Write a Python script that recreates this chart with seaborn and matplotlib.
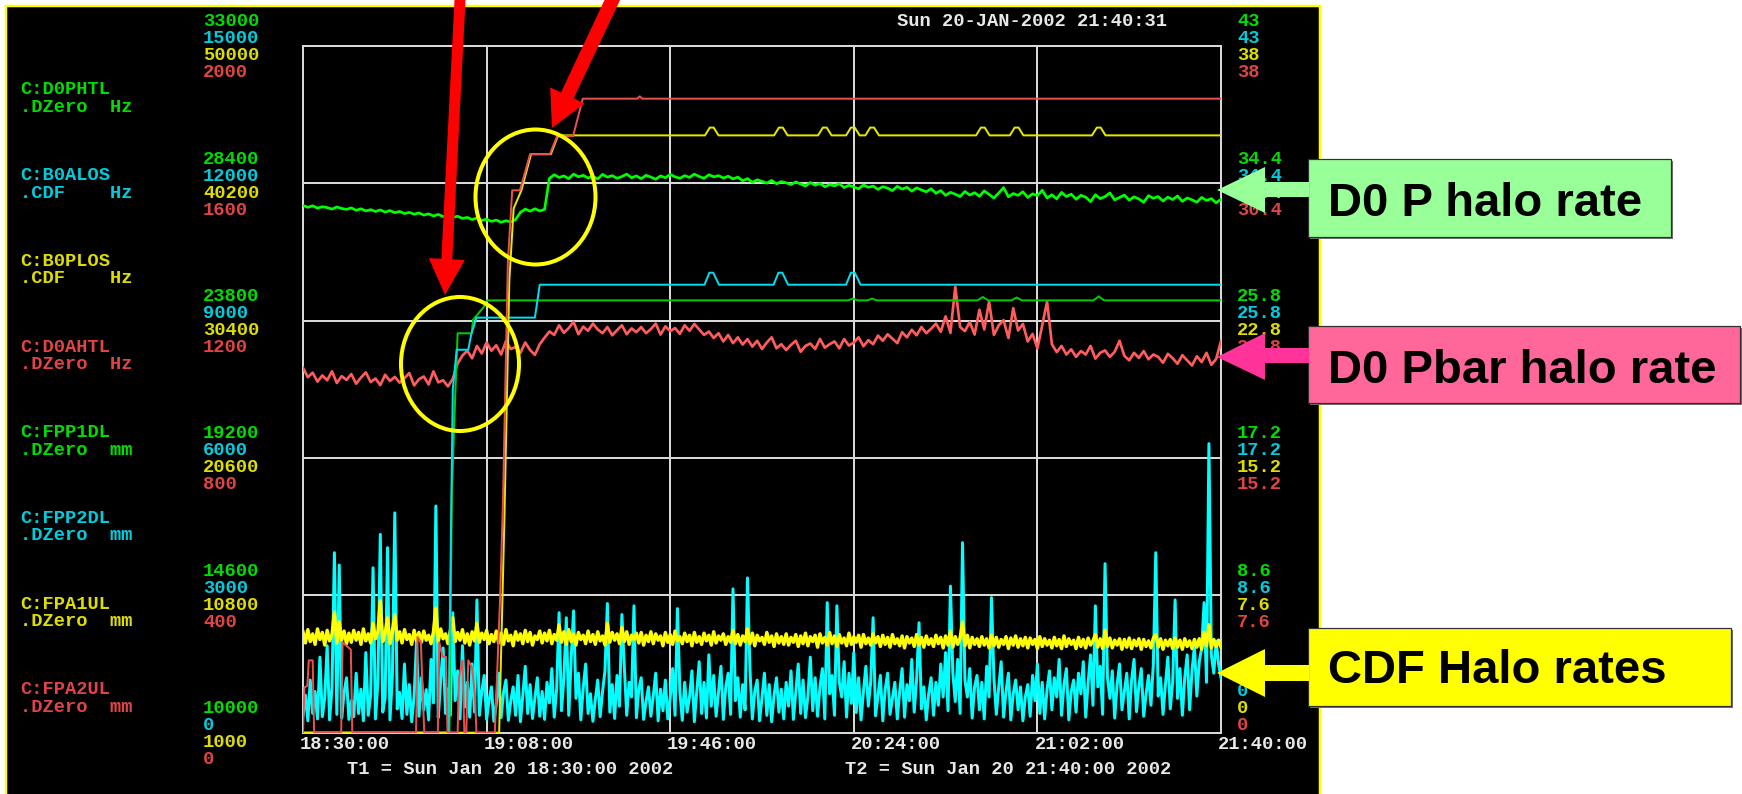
import numpy as np
import matplotlib
matplotlib.use("Agg")
import matplotlib.pyplot as plt
import seaborn as sns
from matplotlib.patches import Rectangle, Ellipse, Polygon
from matplotlib.transforms import ScaledTranslation

W, H, DPI = 1742, 794, 100
PT = 72.0 / DPI

# ------------------------------------------------------------------ data
header_text = "Sun 20-JAN-2002 21:40:31"
t1_text = "T1 = Sun Jan 20 18:30:00 2002"
t2_text = "T2 = Sun Jan 20 21:40:00 2002"

time_ticks = [0, 38, 76, 114, 152, 190]          # minutes after 18:30:00
time_labels = ["18:30:00", "19:08:00", "19:46:00", "20:24:00", "21:02:00", "21:40:00"]

channel_names = ["C:D0PHTL", "C:B0ALOS", "C:B0PLOS", "C:D0AHTL",
                 "C:FPP1DL", "C:FPP2DL", "C:FPA1UL", "C:FPA2UL"]
channel_units = [".DZero  Hz", ".CDF    Hz", ".CDF    Hz", ".DZero  Hz",
                 ".DZero  mm", ".DZero  mm", ".DZero  mm", ".DZero  mm"]

d0phtl_ticks = ["10000", "14600", "19200", "23800", "28400", "33000"]
b0alos_ticks = ["0", "3000", "6000", "9000", "12000", "15000"]
b0plos_ticks = ["1000", "10800", "20600", "30400", "40200", "50000"]
d0ahtl_ticks = ["0", "400", "800", "1200", "1600", "2000"]
fpp1dl_ticks = ["0", "8.6", "17.2", "25.8", "34.4", "43"]
fpp2dl_ticks = ["0", "8.6", "17.2", "25.8", "34.4", "43"]
fpa1ul_ticks = ["0", "7.6", "15.2", "22.8", "30.4", "38"]
fpa2ul_ticks = ["0", "7.6", "15.2", "22.8", "30.4", "38"]

callout_texts = ["D0 P halo rate", "D0 Pbar halo rate", "CDF Halo rates"]

# D0 proton halo rate, Hz, one sample per minute
d0phtl_hz = [
    27650, 27590, 27640, 27560, 27610, 27580, 27530, 27600, 27550, 27520,
    27570, 27490, 27540, 27470, 27510, 27450, 27500, 27430, 27480, 27410,
    27450, 27380, 27420, 27360, 27400, 27330, 27370, 27300, 27350, 27280,
    27310, 27250, 27290, 27220, 27250, 27180, 27230, 27150, 27190, 27120,
    27160, 27090, 27140, 27100, 27180, 27420, 27530, 27460, 27540, 27470,
    27520, 28560, 28680, 28590, 28640, 28550, 28700, 28610, 28660, 28570,
    28630, 28540, 28690, 28600, 28650, 28560, 28620, 28700, 28580, 28640,
    28550, 28660, 28600, 28530, 28640, 28580, 28690, 28610, 28560, 28650,
    28590, 28700, 28620, 28560, 28680, 28610, 28650, 28570, 28630, 28540,
    28600, 28480, 28550, 28430, 28510, 28460, 28400, 28490, 28380, 28450,
    28410, 28350, 28440, 28370, 28300, 28420, 28330, 28390, 28280, 28350,
    28310, 28380, 28250, 28330, 28270, 28210, 28340, 28260, 28300, 28190,
    28280, 28230, 28150, 28290, 28200, 28260, 28130, 28240, 28170, 28110,
    28210, 28060, 28150, 27990, 28090, 28030, 27950, 28120, 28000, 28080,
    27960, 28140, 28020, 27900, 28070, 28250, 27940, 28050, 27990, 28110,
    27920, 28040, 27980, 28160, 27900, 28010, 27870, 28090, 27950, 28030,
    27860, 27990, 27930, 27780, 28010, 27880, 27950, 28070, 27840, 27920,
    28000, 27830, 27940, 27870, 27760, 27980, 27890, 27950, 27800, 27930,
    27850, 27970, 27790, 27900, 27840, 27760, 27920, 27820, 27880, 27740,
    27860]

# D0 antiproton halo rate, Hz, one sample per minute
d0ahtl_hz = [
    1062, 1035, 1048, 1022, 1040, 1026, 1052, 1018, 1038, 1027,
    1044, 1016, 1034, 1049, 1021, 1031, 1012, 1042, 1024, 1036,
    1019, 1032, 1047, 1011, 1029, 1037, 1014, 1052, 1020, 1026,
    1008, 1030, 1075, 1098, 1112, 1090, 1126, 1104, 1136, 1112,
    1128, 1101, 1140, 1117, 1123, 1106, 1136, 1114, 1100, 1131,
    1150, 1168, 1158, 1186, 1164, 1178, 1196, 1160, 1182, 1170,
    1191, 1174, 1163, 1181, 1157, 1172, 1186, 1160, 1177, 1166,
    1181, 1163, 1175, 1191, 1159, 1183, 1169, 1178, 1161, 1186,
    1170, 1190, 1174, 1158, 1168, 1149, 1163, 1139, 1158, 1134,
    1151, 1130, 1146, 1124, 1141, 1117, 1136, 1151, 1119, 1131,
    1114, 1129, 1141, 1109, 1126, 1133, 1117, 1146, 1121, 1131,
    1139, 1119, 1146, 1127, 1136, 1151, 1125, 1143, 1131, 1156,
    1141, 1160, 1147, 1134, 1166, 1151, 1173, 1157, 1181, 1163,
    1176, 1191, 1167, 1212, 1164, 1298, 1181, 1169, 1196, 1159,
    1231, 1174, 1255, 1158, 1186, 1201, 1149, 1236, 1171, 1190,
    1139, 1161, 1119, 1186, 1255, 1131, 1108, 1126, 1101, 1116,
    1094, 1111, 1101, 1126, 1089, 1106, 1113, 1094, 1109, 1141,
    1097, 1084, 1106, 1091, 1111, 1087, 1101, 1094, 1077, 1103,
    1090, 1074, 1099, 1084, 1069, 1096, 1079, 1106, 1071, 1088,
    1140]

# CDF proton-side losses, Hz, one sample per 30 s
b0plos_hz = [
    8200, 7400, 8350, 7500, 8050, 7300, 8400, 7650, 8150, 7250, 8300, 7550, 8000, 9600, 7400, 8900, 7600, 8250, 7350, 8100,
    7450, 8300, 7600, 8150, 7300, 8400, 7550, 8050, 7400, 8800, 7700, 8200, 10400, 7500, 8100, 9200, 7350, 8250, 9400, 7600,
    8200, 7400, 8350, 7650, 8000, 7300, 8300, 7550, 8150, 7450, 8250, 7600, 7950, 7350, 8200, 9900, 7500, 8400, 7700, 8050,
    7350, 8300, 9200, 7500, 8150, 7600, 8350, 7400, 8050, 7250, 8200, 7550, 8800, 7450, 8100, 7650, 8300, 7350, 8000, 7500,
    8250, 7400, 8100, 7300, 8350, 7550, 7950, 7200, 8200, 7600, 8050, 7350, 8300, 7500, 8150, 7250, 7900, 7650, 8250, 7400,
    8100, 7550, 8300, 7350, 8000, 7600, 8700, 7450, 8200, 7300, 8350, 7500, 8050, 7250, 8150, 7650, 7950, 7350, 8250, 7500,
    8000, 7300, 8200, 7550, 7900, 7250, 8800, 7450, 8150, 7600, 8050, 7350, 8500, 7500, 8200, 7300, 7950, 7650, 8100, 7400,
    8150, 7250, 7950, 7500, 8200, 7350, 8050, 7600, 7900, 7200, 8150, 7450, 8000, 7300, 8250, 7550, 7850, 7350, 8100, 7500,
    7950, 7200, 8150, 7450, 7850, 7300, 8100, 7550, 7950, 7250, 8200, 7400, 7900, 7600, 8050, 7300, 7850, 7450, 8300, 7350,
    8000, 7250, 7900, 7500, 8400, 7350, 8100, 7200, 7950, 7550, 7800, 7300, 8150, 7450, 7900, 7150, 8050, 7400, 7850, 7300,
    8050, 7250, 7800, 7450, 8000, 7150, 7900, 7350, 8100, 7200, 7850, 7500, 7950, 7100, 8050, 7400, 7800, 7250, 8150, 7350,
    7900, 7150, 8000, 7400, 7750, 7200, 8100, 7300, 7850, 7450, 7950, 7100, 8000, 7350, 7750, 7250, 8050, 7400, 7850, 7150,
    7950, 7300, 7800, 7100, 8000, 7350, 7700, 7200, 7900, 7050, 7850, 7400, 7750, 7150, 8000, 7250, 7800, 7100, 7900, 7300,
    7700, 7150, 7950, 7350, 7800, 7050, 7900, 7250, 8250, 7100, 7850, 7300, 7750, 8900, 7200, 7950, 7050, 7800, 7300, 7700,
    7150, 7850, 7250, 7700, 7050, 7950, 7200, 7800, 7100, 7650, 7300, 7850, 7000, 7750, 7250, 7900, 7100, 7700, 7200, 7800,
    7050, 7750, 7300, 7650, 7000, 7850, 7150, 7700, 7250, 7600, 7050, 7800, 7200, 7650, 7000, 7900, 7150, 7700, 7300, 7600,
    7000, 7800, 7150, 7650, 7050, 7750, 7250, 7550, 8000, 7100, 7700, 7000, 8300, 7150, 7750, 7050, 7600, 7250, 7700, 6950,
    7650, 7100, 7750, 7000, 7600, 7200, 7700, 6950, 7650, 7150, 7550, 7050, 7750, 8000, 7100, 7700, 6950, 7600, 7200, 7650,
    7000, 7750, 7100, 7600, 6950, 7700, 7150, 7550, 7000, 7650, 7100, 7700, 6950, 8150, 7200, 8700, 7050, 7650, 7150, 7600,
    7100]

# CDF antiproton-side losses, Hz, one sample per 30 s
b0alos_hz = [
    380, 820, 260, 1150, 420, 900, 300, 1650, 350, 760, 1900, 280, 980, 3930, 400, 3660, 320, 870, 1200, 290,
    700, 350, 1300, 420, 950, 260, 1750, 380, 820, 3600, 300, 1100, 4330, 450, 760, 4040, 280, 1250, 4800, 520,
    880, 310, 1500, 400, 1050, 240, 800, 2000, 360, 1200, 500, 940, 280, 1600, 650, 4950, 330, 1150, 1850, 420,
    960, 380, 2620, 700, 1350, 300, 1900, 560, 1100, 340, 1500, 450, 2900, 380, 900, 1250, 290, 700, 1000, 250,
    620, 1300, 330, 880, 1150, 270, 690, 1000, 380, 1250, 240, 820, 1450, 420, 1050, 310, 760, 1200, 360, 900,
    290, 1100, 650, 1400, 340, 950, 2620, 480, 1200, 2510, 380, 1600, 2660, 750, 1300, 280, 980, 1500, 420, 850,
    250, 720, 1150, 350, 900, 1350, 2820, 450, 1050, 310, 1250, 580, 2580, 1450, 380, 1100, 780, 2770, 330, 950,
    1200, 290, 680, 1000, 360, 800, 1300, 260, 950, 480, 1150, 300, 760, 1400, 380, 2710, 900, 270, 1100, 450,
    780, 1350, 240, 900, 1550, 420, 1100, 320, 1700, 580, 1250, 360, 880, 1450, 290, 1000, 1300, 400, 3140, 700,
    1200, 340, 1050, 500, 3380, 1400, 300, 900, 1150, 260, 760, 1300, 380, 1050, 240, 820, 1200, 450, 950, 300,
    1100, 580, 1350, 290, 900, 1500, 420, 1150, 330, 800, 1650, 480, 1200, 360, 1000, 1400, 300, 2840, 850, 1250,
    380, 2770, 1100, 780, 1550, 340, 1300, 640, 1750, 440, 1200, 280, 900, 1450, 580, 1100, 2510, 370, 800, 1250,
    260, 950, 1300, 400, 760, 1100, 300, 900, 1400, 340, 1050, 700, 1600, 450, 1150, 2400, 520, 1000, 280, 850,
    1200, 380, 1100, 600, 1500, 780, 1750, 480, 3200, 1300, 680, 1600, 420, 4150, 1150, 780, 1400, 320, 1000, 1250,
    500, 1100, 300, 1450, 780, 2950, 1200, 400, 1000, 1550, 340, 900, 1300, 280, 850, 1150, 500, 1000, 260, 780,
    1050, 360, 1250, 700, 1500, 420, 1100, 300, 950, 1350, 500, 1200, 780, 1600, 380, 1050, 1400, 280, 900, 1150,
    450, 1300, 850, 1550, 340, 1100, 1700, 600, 2770, 1000, 1450, 400, 3690, 1200, 750, 1350, 320, 1050, 1500, 500,
    900, 1300, 300, 1150, 1600, 460, 1000, 1400, 360, 850, 1250, 600, 1500, 3930, 800, 1200, 400, 1050, 1650, 520,
    1100, 2900, 750, 1400, 380, 1200, 1700, 500, 1350, 1900, 800, 1550, 1850, 2840, 1100, 6310, 1700, 1300, 2000, 1500,
    1200]

# Roman-pot positions (mm) as recorded breakpoints (minutes after 18:30)
fpp1dl_t = [0, 30.3, 30.8, 31.7, 32.0, 34.9, 35.2, 37.3, 38.1, 112.8, 113.8, 114.8,
            116.8, 117.8, 118.8, 139.6, 140.7, 141.8, 146.6, 147.7, 148.8, 163.6, 164.7, 165.8, 190]
fpp1dl_mm = [0, 0, 15.0, 22.7, 25.0, 25.0, 25.85, 26.6, 27.06, 27.06, 27.17, 27.06,
             27.06, 27.17, 27.06, 27.06, 27.27, 27.06, 27.06, 27.24, 27.06, 27.06, 27.31, 27.06, 27.06]

fpp2dl_t = [0, 30.1, 30.6, 31.0, 31.8, 34.2, 34.8, 35.9, 48.0, 49.0,
            83.1, 84.1, 84.9, 86.1, 97.4, 98.4, 99.2, 100.4, 112.4, 113.4, 114.2, 115.4, 190]
fpp2dl_mm = [0, 0, 12.0, 21.47, 23.97, 23.97, 24.9, 25.98, 25.98, 28.04,
             28.04, 28.79, 28.79, 28.04, 28.04, 28.79, 28.79, 28.04, 28.04, 28.79, 28.79, 28.04, 28.04]

fpa1ul_t = [0, 40.6, 41.7, 42.7, 43.6, 45.2, 47.2, 51.3, 52.8,
            83.2, 84.2, 85.0, 86.0, 97.5, 98.5, 99.3, 100.3, 106.6, 107.6, 108.4, 109.4,
            112.4, 113.4, 114.2, 115.2, 116.4, 117.4, 118.2, 119.2, 139.3, 140.3, 141.1, 142.1,
            146.3, 147.3, 148.1, 149.1, 163.3, 164.3, 165.1, 166.1, 190]
fpa1ul_mm = [0, 0, 12.0, 25.0, 29.0, 30.0, 32.0, 32.0, 33.04,
             33.04, 33.47, 33.47, 33.04, 33.04, 33.47, 33.47, 33.04, 33.04, 33.47, 33.47, 33.04,
             33.04, 33.47, 33.47, 33.04, 33.04, 33.47, 33.47, 33.04, 33.04, 33.47, 33.47, 33.04,
             33.04, 33.47, 33.47, 33.04, 33.04, 33.47, 33.47, 33.04, 33.04]

fpa2ul_t = [0, 0.3, 0.9, 1.2, 2.0, 2.3, 7.9, 8.2, 9.0, 9.9, 10.2, 23.4, 23.7, 24.4, 24.8, 25.1,
            27.9, 28.2, 28.9, 29.6, 29.9, 32.0, 32.3, 33.0, 33.4, 33.8, 34.2, 35.0, 35.6, 35.9,
            39.7, 40.8, 41.4, 42.4, 43.3, 44.9, 47.0, 51.1, 52.6, 55.9, 57.9, 69.2, 69.7, 70.2, 190]
fpa2ul_mm = [0, 2.5, 2.6, 4.0, 4.0, 0, 0, 5.0, 4.8, 4.6, 0, 0, 5.3, 5.0, 2.0, 0,
             0, 5.0, 4.2, 4.2, 0, 0, 3.1, 4.0, 0, 0, 4.0, 3.6, 2.0, 0,
             0, 7.5, 12.9, 26.0, 30.0, 30.0, 32.0, 32.0, 33.0, 33.0, 35.07, 35.07, 35.2, 35.07, 35.07]

minutes = np.arange(len(d0phtl_hz))            # 1-minute samples
half_minutes = np.arange(len(b0alos_hz)) * 0.5  # 30-second samples

# ------------------------------------------------------------------ style
MONO = "Liberation Mono"
FS = 13.5
TG, TC, TY, TR, TW = "#00DD00", "#00CCDD", "#DDDD00", "#E04444", "#E8E8E8"
GRID = "#D8D8D8"
LW = 2 * PT

fig = plt.figure(figsize=(W / DPI, H / DPI), dpi=DPI, facecolor="white")


def fx(x):
    return x / W


def fy(y):
    return 1 - y / H


# black scope panel with yellow frame
fig.add_artist(Rectangle((fx(6), fy(800)), (1320 - 6) / W, (800 - 6) / H,
                         transform=fig.transFigure, facecolor="black",
                         edgecolor="#FFFF00", lw=2.5 * PT, zorder=-10))

ax = fig.add_axes([fx(303), fy(732.7), 918 / W, 687 / H])
ax.set_facecolor("black")

twins = [ax.twinx() for _ in range(8)]
for a in twins:
    for s in a.spines.values():
        s.set_visible(False)
    a.grid(False)

series = [
    (minutes, d0phtl_hz, "#00FF00", 2.7),
    (half_minutes, b0alos_hz, "#00FFFF", 3.0),
    (half_minutes, b0plos_hz, "#FFFF00", 3.4),
    (minutes, d0ahtl_hz, "#FF5C5C", 2.7),
    (fpp1dl_t, fpp1dl_mm, "#00CC00", 2.0),
    (fpp2dl_t, fpp2dl_mm, "#00DDEE", 2.0),
    (fpa1ul_t, fpa1ul_mm, "#E6E600", 2.0),
    (fpa2ul_t, fpa2ul_mm, "#E85050", 2.0),
]
for a, (xs, ys, col, lwpx) in zip(twins, series):
    sns.lineplot(x=list(xs), y=list(ys), ax=a, color=col, lw=lwpx * PT, estimator=None,
                 sort=False, legend=False)
    a.set_xlabel("")
    a.set_ylabel("")

tick_sets = [d0phtl_ticks, b0alos_ticks, b0plos_ticks, d0ahtl_ticks,
             fpp1dl_ticks, fpp2dl_ticks, fpa1ul_ticks, fpa2ul_ticks]
sides = ["left"] * 4 + ["right"] * 4
tcolors = [TG, TC, TY, TR] * 2
dys = [-26, -9, 8, 25] * 2
for a, labels, side, col, dy in zip(twins, tick_sets, sides, tcolors, dys):
    vals = [float(s) for s in labels]
    a.set_ylim(vals[0], vals[-1])
    a.set_yticks(vals, labels)
    if side == "left":
        a.yaxis.tick_left()
        a.tick_params(axis="y", length=0, pad=100 * PT, labelcolor=col, labelsize=FS)
    else:
        a.yaxis.tick_right()
        a.tick_params(axis="y", length=0, pad=16 * PT, labelcolor=col, labelsize=FS)
    for k, lab in enumerate(a.get_yticklabels()):
        lab.set_fontfamily(MONO)
        lab.set_fontweight("bold")
        lab.set_ha("left")
        lab.set_va("center_baseline")
        shift = dy - (34 if (side == "right" and k == 0) else 0)
        lab.set_transform(lab.get_transform() +
                          ScaledTranslation(0, -shift / DPI, fig.dpi_scale_trans))

# main axes: frame, grid, time ticks
ax.set_ylim(0, 5)
ax.set_yticks(range(6))
ax.tick_params(axis="y", left=False, right=False, labelleft=False, labelright=False)
ax.set_xticks(time_ticks, time_labels)
ax.tick_params(axis="x", length=0, pad=10 * PT, labelcolor=TW, labelsize=FS)
for lab in ax.get_xticklabels():
    lab.set_fontfamily(MONO)
    lab.set_fontweight("bold")
    lab.set_ha("center")
    lab.set_va("center_baseline")
    lab.set_transform(lab.get_transform() +
                      ScaledTranslation(42 / DPI, 0, fig.dpi_scale_trans))
ax.grid(True, color=GRID, lw=LW)
ax.set_axisbelow(True)
for s in ax.spines.values():
    s.set_color(GRID)
    s.set_linewidth(LW)
ax.set_xlim(time_ticks[0], time_ticks[-1])

# channel names on the left
name_colors = [TG, TC, TY, TR] * 2
for i, (nm, un) in enumerate(zip(channel_names, channel_units)):
    yc = 88 + i * 85.7
    fig.text(fx(20), fy(yc), nm, color=name_colors[i], family=MONO, weight="bold",
             size=FS, ha="left", va="center_baseline")
    fig.text(fx(20), fy(yc + 17.5), un, color=name_colors[i], family=MONO, weight="bold",
             size=FS, ha="left", va="center_baseline")

fig.text(fx(1032), fy(19), header_text, color=TW, family=MONO, weight="bold",
         size=FS, ha="center", va="center_baseline")
fig.text(fx(510), fy(767), t1_text, color=TW, family=MONO, weight="bold",
         size=FS, ha="center", va="center_baseline")
fig.text(fx(1008), fy(767), t2_text, color=TW, family=MONO, weight="bold",
         size=FS, ha="center", va="center_baseline")


def poly_px(points, **kw):
    pts = [(fx(x), fy(y)) for x, y in points]
    fig.add_artist(Polygon(pts, closed=True, transform=fig.transFigure, **kw))


# callouts on the right
callouts = [
    (callout_texts[0], "#99FF99", "#99FF99", (1308, 159, 1671, 237), 216, 190, (167, 213), (182, 197)),
    (callout_texts[1], "#FF6699", "#FF3399", (1308, 326, 1740, 403), 383, 357, (333, 380), (348, 363)),
    (callout_texts[2], "#FFFF00", "#FFFF00", (1308, 628, 1731, 706), 683, 673, (649, 697), (665, 681)),
]
for txt, boxc, arrc, (x0, y0, x1, y1), base, tip, (h0, h1), (s0, s1) in callouts:
    fig.add_artist(Rectangle((fx(x0 + 2), fy(y1 + 2)), (x1 - x0) / W, (y1 - y0) / H,
                             transform=fig.transFigure, facecolor="#707070",
                             edgecolor="none", zorder=4))
    fig.add_artist(Rectangle((fx(x0), fy(y1)), (x1 - x0) / W, (y1 - y0) / H,
                             transform=fig.transFigure, facecolor=boxc,
                             edgecolor="#303030", lw=1.2 * PT, zorder=5))
    poly_px([(x0 + 1, s0), (1265, s0), (1265, h0), (1217, tip), (1265, h1),
             (1265, s1), (x0 + 1, s1)], facecolor=arrc, edgecolor="none", zorder=6)
    fig.text(fx(1328), fy(base), txt, color="black", family="Liberation Sans",
             weight="bold", size=34, ha="left", va="baseline", zorder=7)

# yellow highlight ellipses
for cx, cy, ew, eh in [(535.5, 197, 120, 135), (460, 364, 118, 134)]:
    fig.add_artist(Ellipse((fx(cx), fy(cy)), ew / W, eh / H, transform=fig.transFigure,
                           fill=False, edgecolor="#FFFF00", lw=4 * PT, zorder=8))


def arrow_pts(x0, y0, x1, y1, sw, hw, hl):
    d = np.array([x1 - x0, y1 - y0], float)
    u = d / np.hypot(*d)
    n = np.array([-u[1], u[0]])
    p0, p1 = np.array([x0, y0], float), np.array([x1, y1], float)
    b = p1 - u * hl
    return [p0 + n * sw / 2, b + n * sw / 2, b + n * hw / 2, p1,
            b - n * hw / 2, b - n * sw / 2, p0 - n * sw / 2]


for geo in [(460.5, -10, 445, 295, 11, 36, 36), (617, -10, 552, 128, 14, 38, 36)]:
    poly_px(arrow_pts(*geo), facecolor="#FF0000", edgecolor="none", zorder=9)

fig.savefig("out.png", dpi=DPI, facecolor="white")
